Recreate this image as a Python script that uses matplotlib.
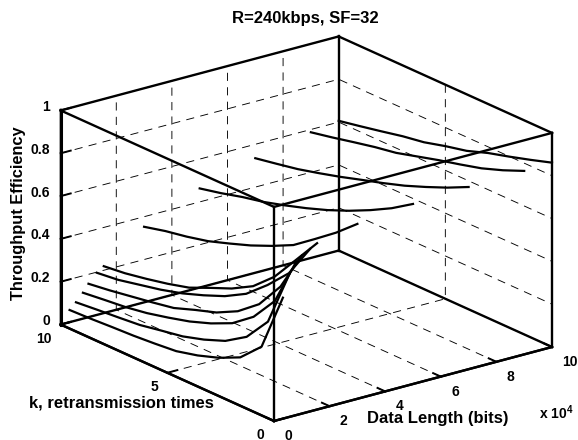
import numpy as np
import matplotlib
matplotlib.use("Agg")
import matplotlib.pyplot as plt
from matplotlib.text import Text
from mpl_toolkits.mplot3d import proj3d

plt.rcParams['font.family'] = ['Liberation Sans', 'DejaVu Sans']
plt.rcParams['font.weight'] = 'bold'
plt.rcParams['mathtext.fontset'] = 'custom'
plt.rcParams['mathtext.bf'] = 'Liberation Sans:bold'

# data: throughput efficiency against k (retransmission times) for each data length
k_values = [0, 1, 2, 3, 4, 5, 6, 7, 8, 9, 10]
lengths = [3200, 5500, 8000, 10000, 13000, 15500, 30000, 50000, 70000, 90000, 100000]
eff_3200 = [.565, .291, .196, .149, .115, .090, .080, .072, .067, .061, .057]
eff_5500 = [.666, .400, .284, .220, .181, .151, .133, .114, .104, .095, .085]
eff_8000 = [.717, .488, .369, .294, .248, .212, .185, .161, .144, .133, .121]
eff_10000 = [.738, .548, .421, .343, .292, .259, .223, .204, .187, .170, .156]
eff_13000 = [.759, .600, .500, .414, .358, .317, .281, .253, .231, .209, .197]
eff_15500 = [.777, .653, .530, .441, .385, .343, .299, .272, .250, .231, .219]
eff_30000 = [.817, .731, .656, .583, .534, .491, .455, .421, .397, .378, .353]
eff_50000 = [.841, .776, .722, .674, .632, .596, .564, .535, .513, .486, .463]
eff_70000 = [.851, .803, .761, .722, .689, .659, .628, .600, .574, .554, .535]
eff_90000 = [.857, .815, .779, .752, .727, .699, .671, .653, .631, .608, .587]
eff_100000 = [.861, .829, .799, .771, .736, .713, .686, .669, .647, .626, .606]
curves = [eff_3200, eff_5500, eff_8000, eff_10000, eff_13000, eff_15500,
          eff_30000, eff_50000, eff_70000, eff_90000, eff_100000]
length_ticks = [0, 20000, 40000, 60000, 80000, 100000]
length_labels = ['0', '2', '4', '6', '8', '10']
k_ticks = [0, 5, 10]
z_ticks = [0, .2, .4, .6, .8, 1]
z_labels = ['0', '0.2', '0.4', '0.6', '0.8', '1']

W, H = 578, 440
fig = plt.figure(figsize=(W / 100, H / 100), dpi=100)
ax = fig.add_axes([0, 0, 1, 1], projection='3d', proj_type='ortho')
ax.computed_zorder = False
ax.view_init(elev=20.3, azim=-127.5)
ax.set_xlim(0, 100000)
ax.set_ylim(0, 10)
ax.set_zlim(0, 1)

for axis in (ax.xaxis, ax.yaxis, ax.zaxis):
    axis.set_pane_color((1, 1, 1, 0))
    axis.pane.set_edgecolor((1, 1, 1, 0))
    axis.line.set_linewidth(1.7)
    axis.line.set_color('k')
    axis._axinfo['grid'].update(color='k', linewidth=0.65, linestyle=(0, (9, 7)))
    axis._axinfo['tick'].update(inward_factor=0.0, outward_factor=0.45)
    axis._axinfo['tick']['linewidth'] = {True: 1.4, False: 1.4}
    axis.set_rotate_label(False)

ax.set_xticks(length_ticks, length_labels)
ax.set_yticks(k_ticks, [str(v) for v in k_ticks])
ax.set_zticks(z_ticks, z_labels)
ax.tick_params(axis='both', labelsize=10, colors='k')
ax.tick_params(axis='x', pad=0)
ax.tick_params(axis='y', pad=-2.5)
ax.tick_params(axis='z', pad=-4.5)
ax.grid(True)

# bounding box
x0, x1, y0, y1, z0, z1 = 0, 100000, 0, 10, 0, 1
for (xs, ys, zs) in [
    ([x0, x1], [y0, y0], [z0, z0]), ([x0, x1], [y1, y1], [z0, z0]),
    ([x0, x1], [y0, y0], [z1, z1]), ([x0, x1], [y1, y1], [z1, z1]),
    ([x0, x0], [y0, y1], [z0, z0]), ([x1, x1], [y0, y1], [z0, z0]),
    ([x0, x0], [y0, y1], [z1, z1]), ([x1, x1], [y0, y1], [z1, z1]),
    ([x0, x0], [y0, y0], [z0, z1]), ([x1, x1], [y0, y0], [z0, z1]),
    ([x0, x0], [y1, y1], [z0, z1]), ([x1, x1], [y1, y1], [z0, z1]),
]:
    ax.plot(xs, ys, zs, color='k', lw=1.7, zorder=3, solid_capstyle='projecting', clip_on=False)
ax.plot([x0, x0], [y1, y1], [z0, z1], color='k', lw=2.2, zorder=3, clip_on=False)

for L, eff in zip(lengths, curves):
    ax.plot([L] * len(k_values), k_values, eff, color='k', lw=1.6, zorder=4, clip_on=False)


def px(x, y, z):
    a, b, _ = proj3d.proj_transform(x, y, z, ax.get_proj())
    return ax.transData.transform((a, b))


# fit the cube on the reference pixels: origin (274,421), L end (552,347)
zoom = 1.0
pos = [0.0, 0.0, 1.0, 1.0]
for _ in range(4):
    ax.set_box_aspect((350, 350, 228), zoom=zoom)
    ax.set_position(pos)
    fig.canvas.draw()
    o = px(x0, y0, z0)
    e = px(x1, y0, z0)
    zoom *= 278.0 / (e[0] - o[0])
    ax.set_box_aspect((350, 350, 228), zoom=zoom)
    fig.canvas.draw()
    o = px(x0, y0, z0)
    pos = [pos[0] + (274 - o[0]) / W, pos[1] + ((H - 421) - o[1]) / H, 1.0, 1.0]
    ax.set_position(pos)
    fig.canvas.draw()


def nudge(label, dy_px):
    inv = ax.transData.inverted()
    dy = inv.transform((0, dy_px))[1] - inv.transform((0, 0))[1]
    label.set_position = lambda xy: Text.set_position(label, (xy[0], xy[1] + dy))


for lab in ax.get_xticklabels():
    lab.set_va('center')
    lab.set_ha('left')
for lab in ax.get_yticklabels():
    lab.set_va('center')
    lab.set_ha('right')
    nudge(lab, -4.5)
for lab in ax.get_zticklabels():
    lab.set_va('center')
    lab.set_ha('right')
    nudge(lab, 3)


def pin(label, x, y):
    d = ax.transData.inverted().transform((x, H - y))
    label.set_position = lambda xy, d=d: Text.set_position(label, d)
    Text.set_position(label, d)


ax.set_xlabel('Data Length (bits)', fontsize=12, fontweight='bold', rotation=0)
ax.set_ylabel('k, retransmission times', fontsize=12, fontweight='bold', rotation=0)
ax.set_zlabel('Throughput Efficiency', fontsize=11.8, fontweight='bold', rotation=90)
pin(ax.xaxis.label, 438, 418)
pin(ax.yaxis.label, 121, 403)
pin(ax.zaxis.label, 18, 213)

tx, ty = ax.transAxes.inverted().transform((305.5, H - 17 + 27))
ax.set_title('R=240kbps, SF=32', fontsize=12, fontweight='bold', x=tx, y=ty, va='center')
fig.text(539 / W, 1 - 413 / H, r'x 10$^{\mathbf{4}}$', fontsize=10, fontweight='bold',
         ha='left', va='center')

fig.savefig('out.png', dpi=100)
